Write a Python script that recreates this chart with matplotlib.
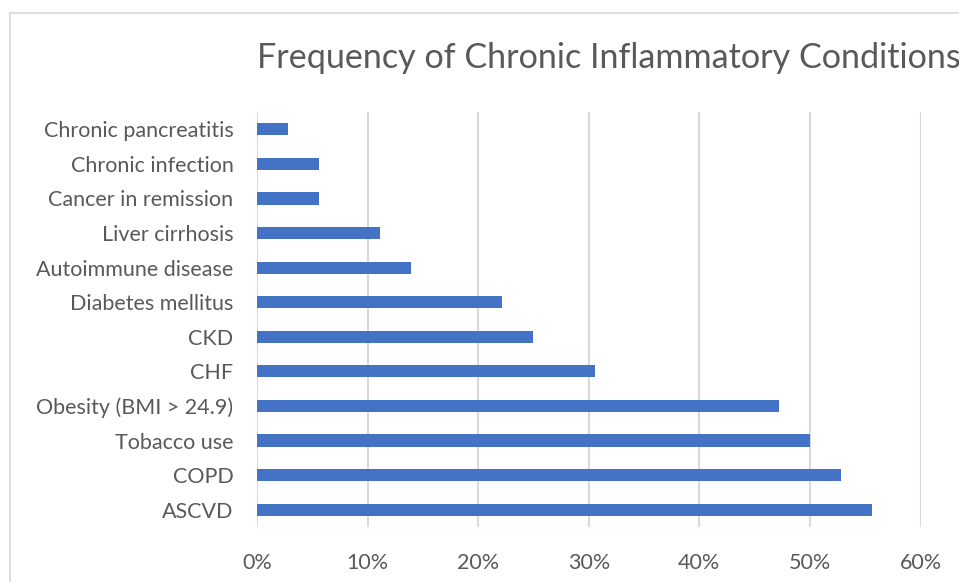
import matplotlib.pyplot as plt
from matplotlib.ticker import PercentFormatter
from matplotlib.lines import Line2D

# data (n = 36 patients)
conditions = ['ASCVD', 'COPD', 'Tobacco use', 'Obesity (BMI > 24.9)', 'CHF', 'CKD',
              'Diabetes mellitus', 'Autoimmune disease', 'Liver cirrhosis',
              'Cancer in remission', 'Chronic infection', 'Chronic pancreatitis']
frequency = [0.556, 0.528, 0.500, 0.472, 0.306, 0.250,
             0.222, 0.139, 0.111, 0.056, 0.056, 0.028]
x_ticks = [0, 0.1, 0.2, 0.3, 0.4, 0.5, 0.6]

W, H = 959, 582
plt.rcParams['font.family'] = ['Lato', 'DejaVu Sans']
txtcolor = '#595959'
gridcolor = '#d9d9d9'

fig = plt.figure(figsize=(W / 100, H / 100), dpi=100)
ax = fig.add_axes([257 / W, 1 - 527 / H, (920.5 - 257) / W, (527 - 112) / H])

ax.barh(range(len(conditions)), frequency, height=0.35, color='#4472C4', zorder=3)
ax.set_ylim(-0.5, len(conditions) - 0.5)
ax.set_xlim(0, 0.6)
ax.set_xticks(x_ticks)
ax.xaxis.set_major_formatter(PercentFormatter(1.0, decimals=0))
ax.set_yticks(range(len(conditions)))
ax.set_yticklabels(conditions)
ax.tick_params(length=0, labelsize=15.5, colors=txtcolor)
ax.tick_params(axis='x', pad=19)
ax.tick_params(axis='y', pad=17)
ax.grid(axis='x', color=gridcolor, linewidth=1.5, zorder=0)
for s in ax.spines.values():
    s.set_visible(False)

# title reaches the right edge like in the reference
fig.text(257 / W, 1 - 58 / H, 'Frequency of Chronic Inflammatory Conditions',
         fontsize=24.6, color=txtcolor, ha='left', va='center')

# chart area border (top and left edges only are visible)
fig.add_artist(Line2D([10 / W, 1.0], [1 - 13 / H, 1 - 13 / H], color=gridcolor, lw=1.2))
fig.add_artist(Line2D([10 / W, 10 / W], [1 - 13 / H, 0.0], color=gridcolor, lw=1.2))

fig.savefig('out.png', dpi=100, facecolor='white')
